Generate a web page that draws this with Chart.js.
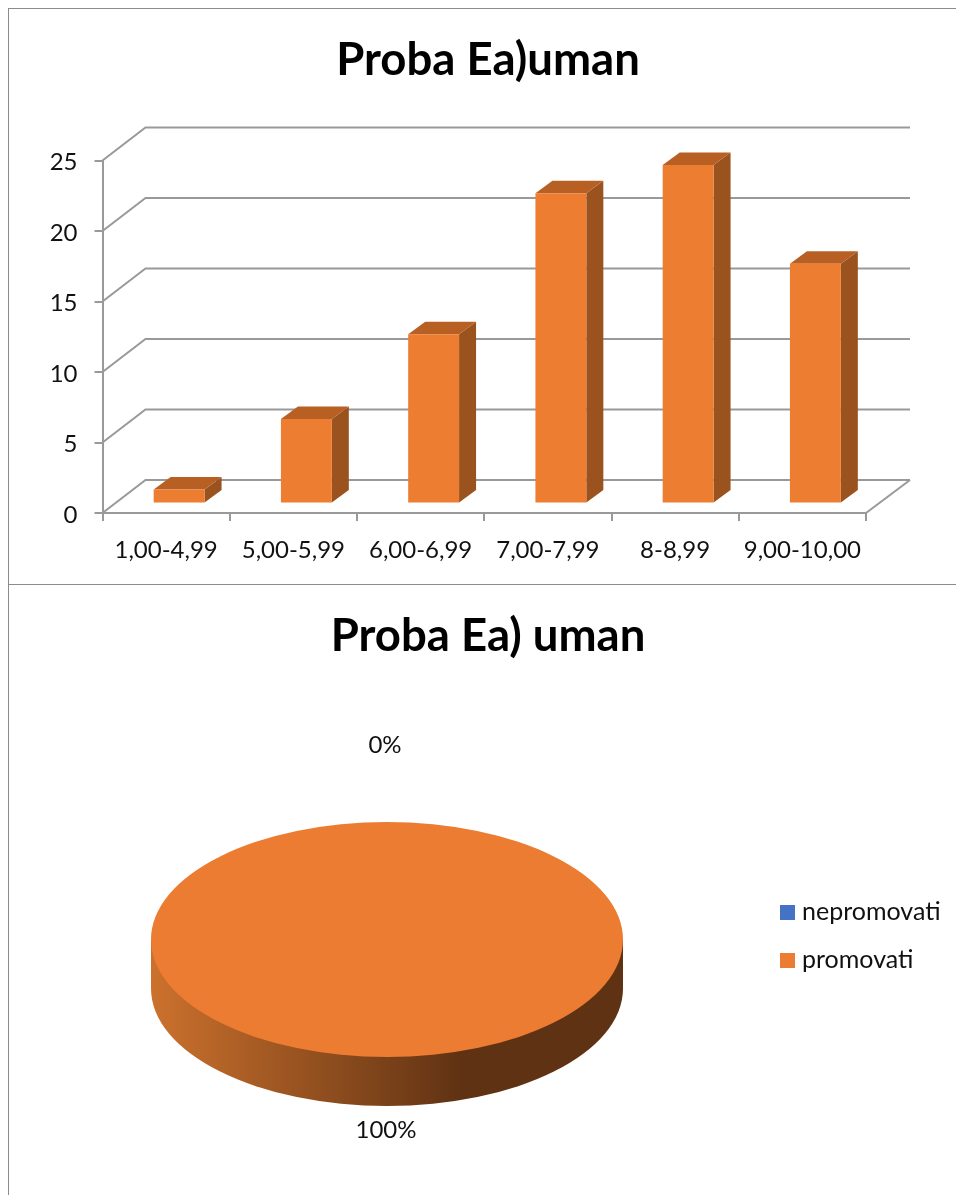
<!DOCTYPE html>
<html>
<head>
<meta charset="utf-8">
<script src="https://cdn.jsdelivr.net/npm/chart.js@4/dist/chart.umd.min.js"></script>
<style>
    html, body { margin: 0; padding: 0; background: #fff; overflow: hidden; }
    body { width: 956px; height: 1195px; position: relative; font-family: Lato, sans-serif; }
    canvas { position: absolute; left: 0; }
    #frame { position: absolute; left: 8px; top: 8px; width: 948px; height: 1187px; border-left: 1px solid #8c8c8c; border-top: 1px solid #8c8c8c; box-sizing: border-box; }
    #divider { position: absolute; left: 8px; top: 584px; width: 948px; border-top: 1px solid #8c8c8c; }
    #pie-legend { position: absolute; left: 780px; top: 886px; color: #111; font-size: 25px; line-height: 48px; }
    #pie-legend i { display: inline-block; width: 15px; height: 15px; margin-right: 7px; vertical-align: 0; }
</style>
</head>
<body>
<div id="frame"></div>
<div id="divider"></div>
<canvas id="barChart" width="956" height="584" style="top:0"></canvas>
<canvas id="pieChart" width="956" height="610" style="top:585px"></canvas>
<div id="pie-legend"></div>

<script>
// Chart data
const barTitle = 'Proba Ea)uman';
const barCategories = ['1,00-4,99', '5,00-5,99', '6,00-6,99', '7,00-7,99', '8-8,99', '9,00-10,00'];
const barValues = [1, 6, 12, 22, 24, 17];

const pieTitle = 'Proba Ea) uman';
const pieLabels = ['nepromovati', 'promovati'];
const pieValues = [0, 100];
const pieColors = ['#4472C4', '#EC7C31'];

const FONT = 'Lato';
const TEXT = '#111';
const AXIS = '#999';

// fake 3D for the bars: back wall, then side and top faces
const bar3d = {
    id: 'bar3d',
    beforeDatasetsDraw(chart) {
        const { ctx, chartArea } = chart;
        const y = chart.scales.y;
        ctx.save();
        ctx.strokeStyle = AXIS;
        ctx.lineWidth = 2;
        y.ticks.forEach(t => {
            const py = y.getPixelForValue(t.value);
            ctx.beginPath();
            ctx.moveTo(chartArea.left, py);
            ctx.lineTo(chartArea.left + 43, py - 33);
            ctx.lineTo(chartArea.right + 44, py - 33);
            ctx.stroke();
        });
        ctx.beginPath();
        ctx.moveTo(chartArea.right, chartArea.bottom);
        ctx.lineTo(chartArea.right + 44, chartArea.bottom - 33);
        ctx.stroke();
        ctx.restore();

        ctx.save();
        ctx.translate(13, -9.5);
        chart.getDatasetMeta(0).data.forEach(b => {
            const l = b.x - b.width / 2, r = b.x + b.width / 2;
            ctx.fillStyle = '#9A521E';
            ctx.beginPath();
            ctx.moveTo(r, b.y);
            ctx.lineTo(r + 17, b.y - 12.5);
            ctx.lineTo(r + 17, b.base - 12.5);
            ctx.lineTo(r, b.base);
            ctx.closePath();
            ctx.fill();
            ctx.fillStyle = '#B86024';
            ctx.beginPath();
            ctx.moveTo(l, b.y);
            ctx.lineTo(l + 17, b.y - 12.5);
            ctx.lineTo(r + 17, b.y - 12.5);
            ctx.lineTo(r, b.y);
            ctx.closePath();
            ctx.fill();
        });
    },
    afterDatasetsDraw(chart) {
        chart.ctx.restore();
    }
};

new Chart(document.getElementById('barChart'), {
    type: 'bar',
    data: {
        labels: barCategories,
        datasets: [{
            data: barValues,
            backgroundColor: '#ED7D31',
            categoryPercentage: 0.4,
            barPercentage: 1
        }]
    },
    options: {
        responsive: false,
        animation: false,
        layout: { padding: { left: 20 } },
        plugins: {
            legend: { display: false },
            tooltip: { enabled: false },
            title: {
                display: true,
                text: barTitle,
                color: '#000',
                font: { family: FONT, size: 45.5, weight: 'bold', lineHeight: 1.2 },
                padding: { top: 32.7, bottom: 73.2 }
            }
        },
        scales: {
            x: {
                grid: { drawOnChartArea: false, color: AXIS, lineWidth: 2, tickLength: 8 },
                border: { color: AXIS, width: 2 },
                ticks: { color: TEXT, font: { family: FONT, size: 24 }, padding: 15, maxRotation: 0 },
                afterFit(s) { s.height = 71; }
            },
            y: {
                min: 0,
                max: 25,
                grid: { drawOnChartArea: false, color: AXIS, lineWidth: 2, tickLength: 8 },
                border: { color: AXIS, width: 2 },
                ticks: { stepSize: 5, color: TEXT, font: { family: FONT, size: 24 }, padding: 17, labelOffset: 2 },
                afterFit(s) { s.width = 82.5; }
            },
            // empty axis, keeps the room on the right without pulling the title off centre
            spacer: {
                position: 'right',
                grid: { display: false },
                border: { display: false },
                ticks: { display: false },
                afterFit(s) { s.width = 90; }
            }
        }
    },
    plugins: [bar3d]
});

// pie is squashed into an ellipse and gets a rim with a gradient
const PIE_CX = 387, PIE_CY = 354.5, PIE_RY = 117.5, PIE_DEPTH = 49;

const pie3d = {
    id: 'pie3d',
    beforeDatasetsDraw(chart) {
        const { ctx } = chart;
        const arc = chart.getDatasetMeta(0).data[1];
        const rx = arc.outerRadius;
        const grad = ctx.createLinearGradient(PIE_CX - rx, 0, PIE_CX + rx, 0);
        grad.addColorStop(0, '#CC712D');
        grad.addColorStop(0.66, '#5F3213');
        grad.addColorStop(1, '#5F3213');
        ctx.fillStyle = grad;
        ctx.beginPath();
        ctx.moveTo(PIE_CX - rx, PIE_CY);
        ctx.lineTo(PIE_CX - rx, PIE_CY + PIE_DEPTH);
        ctx.ellipse(PIE_CX, PIE_CY + PIE_DEPTH, rx, PIE_RY, 0, Math.PI, 0, true);
        ctx.lineTo(PIE_CX + rx, PIE_CY);
        ctx.closePath();
        ctx.fill();

        ctx.save();
        ctx.translate(PIE_CX, PIE_CY);
        ctx.scale(1, PIE_RY / rx);
        ctx.translate(-arc.x, -arc.y);
    },
    afterDatasetsDraw(chart) {
        const { ctx } = chart;
        ctx.restore();
        const total = pieValues.reduce((a, b) => a + b, 0);
        ctx.save();
        ctx.fillStyle = TEXT;
        ctx.font = '24px ' + FONT;
        ctx.textAlign = 'center';
        ctx.textBaseline = 'middle';
        ctx.fillText(Math.round(pieValues[0] / total * 100) + '%', 385, 160);
        ctx.fillText(Math.round(pieValues[1] / total * 100) + '%', 386, 545);
        ctx.restore();
    }
};

new Chart(document.getElementById('pieChart'), {
    type: 'pie',
    data: {
        labels: pieLabels,
        datasets: [{
            data: pieValues,
            backgroundColor: pieColors,
            borderWidth: 0,
            radius: 236
        }]
    },
    options: {
        responsive: false,
        animation: false,
        layout: { padding: { left: 20 } },
        plugins: {
            legend: { display: false },
            tooltip: { enabled: false },
            title: {
                display: true,
                text: pieTitle,
                color: '#000',
                font: { family: FONT, size: 45.5, weight: 'bold', lineHeight: 1.2 },
                padding: { top: 23.7, bottom: 20 }
            }
        }
    },
    plugins: [pie3d]
});

// legend
const legendBox = document.getElementById('pie-legend');
pieLabels.forEach((name, i) => {
    const row = document.createElement('div');
    row.innerHTML = `<i style="background:${pieColors[i]}"></i>${name}`;
    legendBox.appendChild(row);
});
</script>
</body>
</html>
